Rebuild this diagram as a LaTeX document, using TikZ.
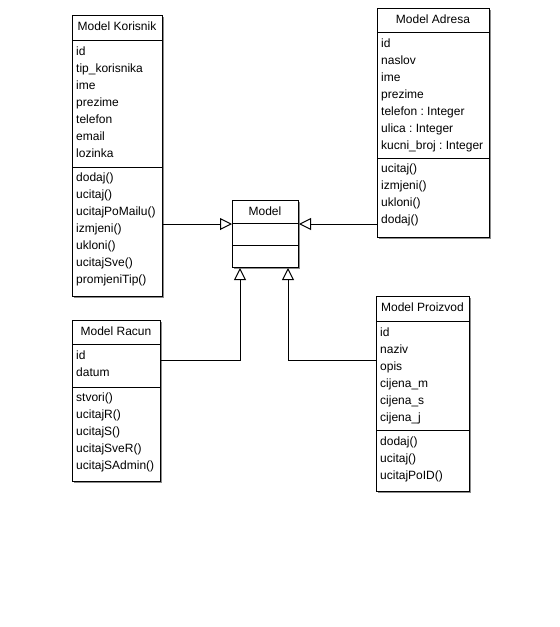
\documentclass[tikz,border=0pt]{standalone}
\usepackage{fontspec}
\setmainfont{Liberation Sans}
\usetikzlibrary{arrows.meta,shadows}
\frenchspacing
\tikzset{
  umlbox/.style={draw=black, line width=1pt, fill=white, anchor=north west, inner sep=0pt,
    drop shadow={shadow xshift=1.5pt, shadow yshift=-1.5pt, fill=black!45, opacity=1}},
  txt/.style={anchor=base west, inner sep=0pt, font=\fontsize{12}{14}\selectfont},
  ttl/.style={anchor=base, inner sep=0pt, font=\fontsize{12}{14}\selectfont},
  sepl/.style={line width=1pt},
  inh/.style={line width=1pt, -{Triangle[open, length=12pt, width=12pt, line width=1pt]}}
}
\newcommand{\rowlist}[3]{%
  \foreach \t [count=\i from 0] in {#3} {\node[txt] at (#1, #2 + 17*\i) {\t};}}
\begin{document}
\begin{tikzpicture}[x=1pt, y=-1pt]
\useasboundingbox[fill=white] (0,0) rectangle (560,627);

% Model Korisnik
\node[umlbox, minimum width=90pt, minimum height=281pt] (kor) at (72,15) {};
\draw[sepl] (72,40) -- (162,40);
\draw[sepl] (72,167) -- (162,167);
\node[ttl] (korT) at (117,30) {Model Korisnik};
\rowlist{76}{55}{id,tip\_korisnika,ime,prezime,telefon,email,lozinka}
\rowlist{76}{181}{dodaj(),ucitaj(),ucitajPoMailu(),izmjeni(),ukloni(),ucitajSve(),promjeniTip()}

% Model Adresa
\node[umlbox, minimum width=112pt, minimum height=229pt] (adr) at (377,8) {};
\draw[sepl] (377,32) -- (489,32);
\draw[sepl] (377,158) -- (489,158);
\node[ttl] (adrT) at (433,23) {Model Adresa};
\rowlist{381}{47}{id,naslov,ime,prezime,telefon : Integer,ulica : Integer,kucni\_broj : Integer}
\rowlist{381}{172}{ucitaj(),izmjeni(),ukloni(),dodaj()}

% Model
\node[umlbox, minimum width=66pt, minimum height=67pt] (mdl) at (232,200) {};
\draw[sepl] (232,223) -- (298,223);
\draw[sepl] (232,245) -- (298,245);
\node[ttl] (mdlT) at (265,215) {Model};

% Model Racun
\node[umlbox, minimum width=88pt, minimum height=161pt] (rac) at (72,320) {};
\draw[sepl] (72,344) -- (160,344);
\draw[sepl] (72,387) -- (160,387);
\node[ttl] (racT) at (116,335) {Model Racun};
\rowlist{76}{359}{id,datum}
\rowlist{76}{401}{stvori(),ucitajR(),ucitajS(),ucitajSveR(),ucitajSAdmin()}

% Model Proizvod
\node[umlbox, minimum width=93pt, minimum height=195pt] (pro) at (376,296) {};
\draw[sepl] (376,321) -- (469,321);
\draw[sepl] (376,430) -- (469,430);
\node[ttl] (proT) at (422.5,311) {Model Proizvod};
\rowlist{380}{336}{id,naziv,opis,cijena\_m,cijena\_s,cijena\_j}
\rowlist{380}{445}{dodaj(),ucitaj(),ucitajPoID()}

% connectors
\coordinate (msep) at (265,224);
\coordinate (jr) at (240,360);
\coordinate (jp) at (288,360);
\draw[inh] (kor.east |- msep) -- (mdl.west |- msep);
\draw[inh] (adr.west |- msep) -- (mdl.east |- msep);
\draw[inh] (rac.east |- jr) -- (jr) -- (jr |- mdl.south);
\draw[inh] (pro.west |- jp) -- (jp) -- (jp |- mdl.south);
\end{tikzpicture}
\end{document}
